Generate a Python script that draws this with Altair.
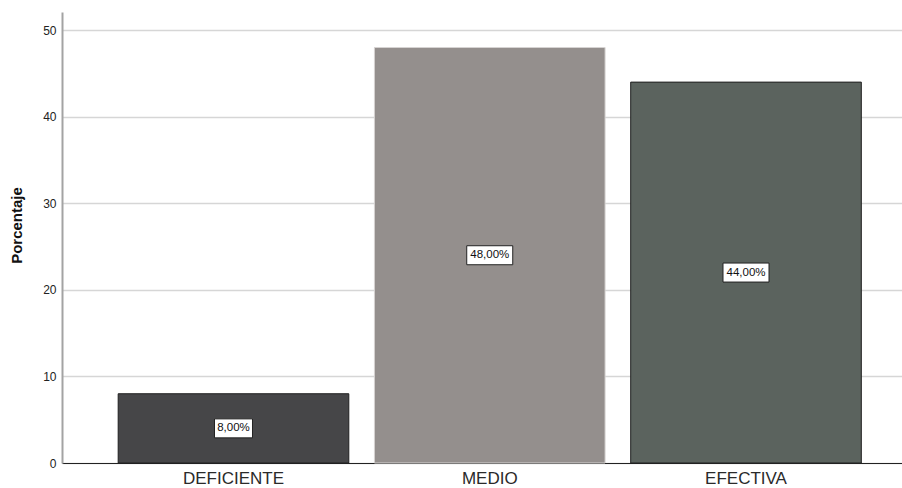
import altair as alt
import pandas as pd

# Distribución porcentual por nivel
categorias = ["DEFICIENTE", "MEDIO", "EFECTIVA"]
porcentajes = [8.0, 48.0, 44.0]
etiquetas = ["8,00%", "48,00%", "44,00%"]

df = pd.DataFrame({"nivel": categorias, "porcentaje": porcentajes, "etiqueta": etiquetas})

colores = ["#464648", "#948f8d", "#5b635e"]
bordes = ["#202020", "#d6d3d2", "#202020"]
FUENTE = "Liberation Sans"

x = alt.X(
    "nivel:N",
    sort=categorias,
    scale=alt.Scale(paddingInner=0.1, paddingOuter=0.189, align=0.58),
    axis=alt.Axis(
        title=None, labelAngle=0, labelFont=FUENTE, labelFontSize=17,
        labelColor="#2a2a2a", ticks=False, labelPadding=7,
        domainColor="#222222", domainWidth=1, grid=False,
    ),
)

y = alt.Y(
    "porcentaje:Q",
    scale=alt.Scale(domain=[0, 52.1], nice=False, zero=True),
    axis=alt.Axis(
        title="Porcentaje", titleFont=FUENTE, titleFontSize=15, titleFontWeight="bold",
        titleColor="#111111", titlePadding=18, titleY=213,
        values=[0, 10, 20, 30, 40, 50], labelFont=FUENTE, labelFontSize=12,
        labelColor="#222222", labelPadding=6, ticks=False,
        domainColor="#a3a3a3", domainWidth=2,
        grid=True, gridColor="#d6d6d6", gridWidth=1.5,
    ),
)

barras = alt.Chart(df).mark_bar(strokeWidth=1).encode(
    x=x,
    y=y,
    color=alt.Color("nivel:N", scale=alt.Scale(domain=categorias, range=colores), legend=None),
    stroke=alt.Stroke("nivel:N", scale=alt.Scale(domain=categorias, range=bordes), legend=None),
)

base_etq = alt.Chart(df).transform_calculate(
    mitad="datum.porcentaje / 2",
    hw="(length(datum.etiqueta) * 8 - 2) / 100",
    caja="'M' + (-datum.hw) + ',-0.19 L' + datum.hw + ',-0.19 L' + datum.hw + ',0.19 L' + (-datum.hw) + ',0.19 Z'",
)

cajas = base_etq.mark_point(
    filled=True, fill="white", stroke="#222222", strokeWidth=1, size=10000, opacity=1
).encode(
    x=alt.X("nivel:N", sort=categorias),
    y=alt.Y("mitad:Q"),
    shape=alt.Shape("caja:N", scale=None),
)

textos = base_etq.mark_text(font=FUENTE, fontSize=11.5, color="#111111").encode(
    x=alt.X("nivel:N", sort=categorias),
    y=alt.Y("mitad:Q"),
    text="etiqueta:N",
)

chart = (
    alt.layer(barras, cajas, textos)
    .properties(
        width=840,
        height=451,
        autosize=alt.AutoSizeParams(type="none"),
        padding={"left": 62, "top": 12, "right": 0, "bottom": 25},
        background="white",
    )
    .configure_view(stroke=None)
)

chart.save("out.html", embed_options={"renderer": "svg", "actions": False})
